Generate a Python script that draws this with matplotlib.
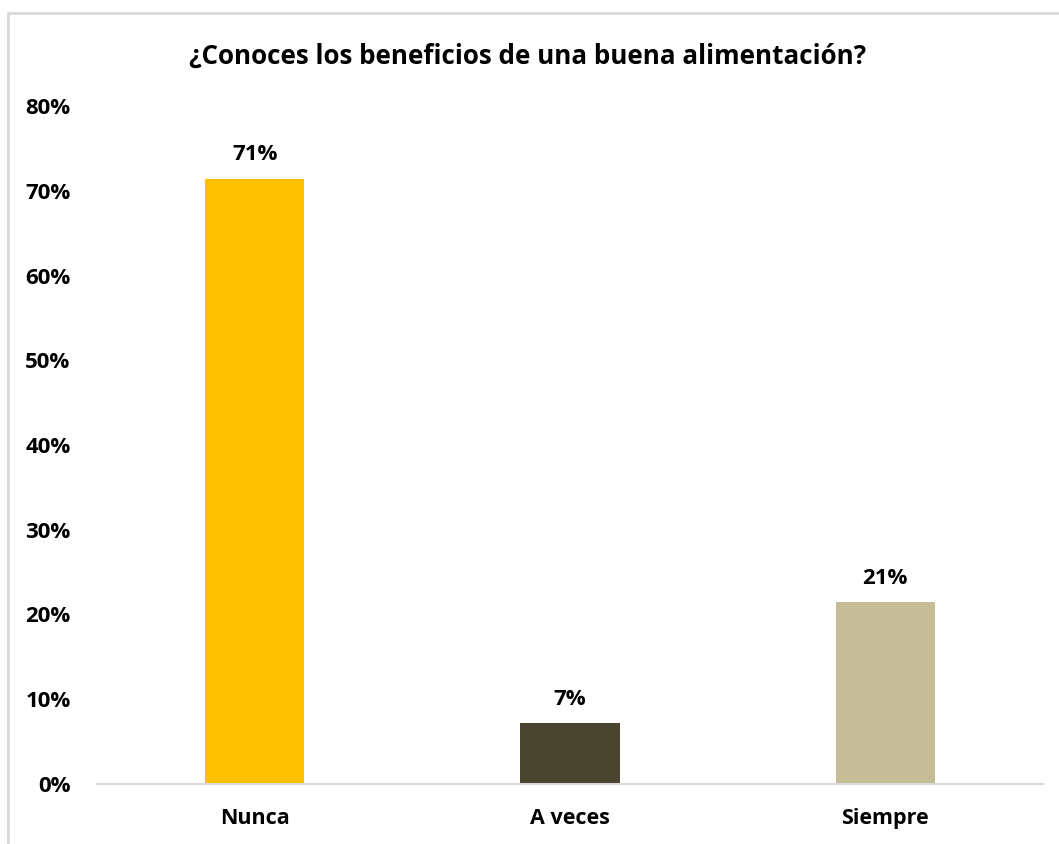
import matplotlib
matplotlib.use("Agg")
import matplotlib.pyplot as plt
from matplotlib.patches import Rectangle

categories = ["Nunca", "A veces", "Siempre"]
values = [10 / 14 * 100, 1 / 14 * 100, 3 / 14 * 100]
colors = ["#FFC000", "#4A4530", "#C4BD97"]
yticks = [0, 10, 20, 30, 40, 50, 60, 70, 80]
title = "¿Conoces los beneficios de una buena alimentación?"

plt.rcParams["font.family"] = ["Open Sans", "DejaVu Sans"]
plt.rcParams["font.weight"] = "bold"

W, H = 1059, 844
fig = plt.figure(figsize=(W / 100, H / 100), dpi=100)

# outer chart frame (extends past the right and bottom edges)
frame = Rectangle((7.5 / W, -0.05), 1.2, 1 - 13 / H + 0.05,
                  transform=fig.transFigure, fill=False,
                  edgecolor="#D9D9D9", linewidth=2, clip_on=False)
fig.patches.append(frame)

ax = fig.add_axes([97 / W, 1 - 784 / H, (1043 - 97) / W, (784 - 106) / H])
x = list(range(len(categories)))
bars = ax.bar(x, values, width=0.314, color=colors, zorder=2)

for xi, v in zip(x, values):
    ax.annotate(f"{v:.0f}%", (xi, v), xytext=(0, 10), textcoords="offset points",
                ha="center", va="bottom", fontsize=16, fontweight="bold", color="#000000")

ax.set_xlim(-0.5, 2.5)
ax.set_ylim(0, 80)
ax.set_yticks(yticks)
ax.set_yticklabels([f"{t}%" for t in yticks], fontsize=16, fontweight="bold")
ax.set_xticks(x)
ax.set_xticklabels(categories, fontsize=15.5, fontweight="bold")
ax.tick_params(axis="y", length=0, pad=19)
ax.tick_params(axis="x", length=0, pad=17)

for side in ["top", "right", "left"]:
    ax.spines[side].set_visible(False)
ax.spines["bottom"].set_color("#D9D9D9")
ax.spines["bottom"].set_linewidth(1.5)

fig.text(528 / W, 1 - 56 / H, title, ha="center", va="center",
         fontsize=18.7, fontweight="bold", color="#000000")

fig.savefig("out.png", dpi=100, facecolor="white")
